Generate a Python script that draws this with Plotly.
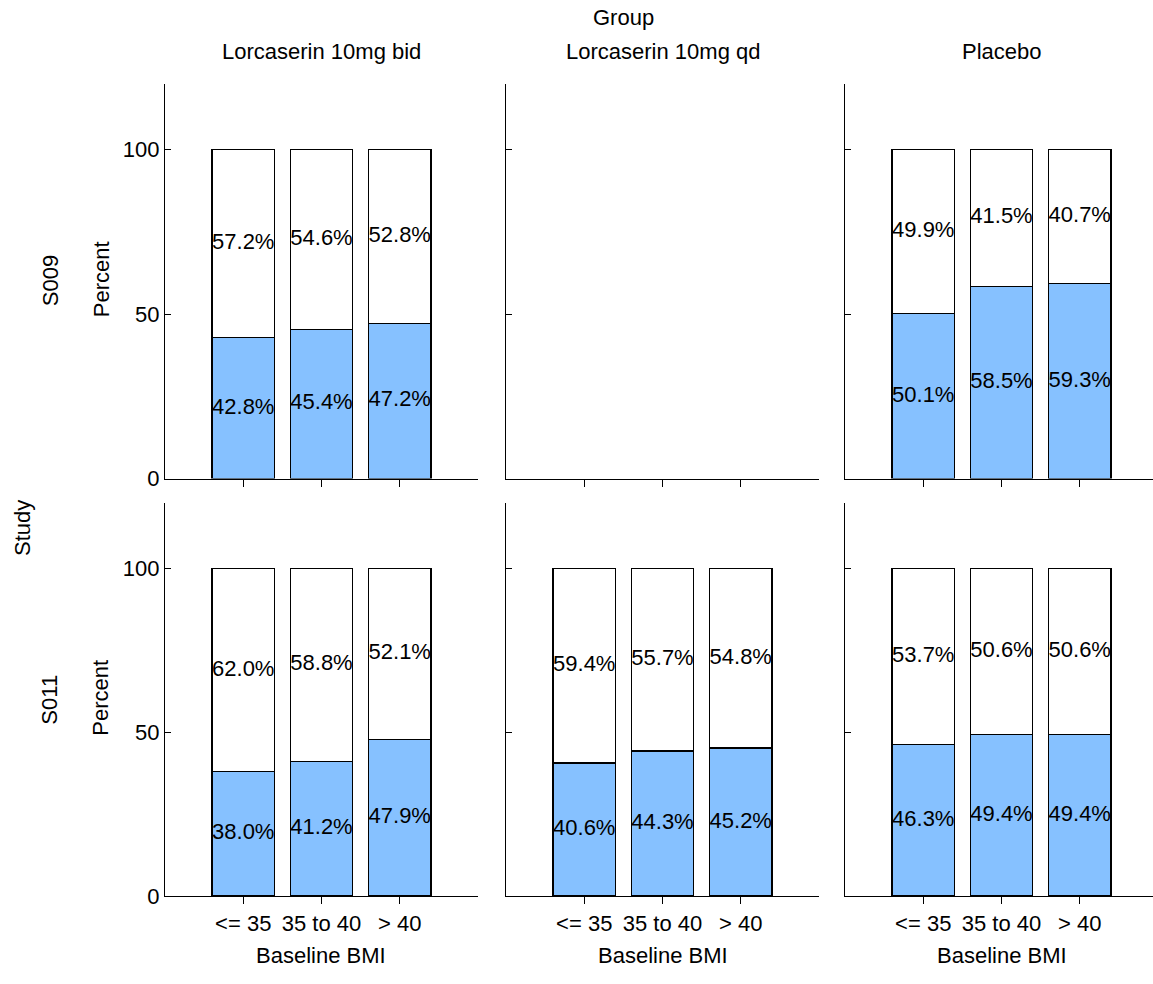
import plotly.graph_objects as go

W, H = 1153, 984

groups = ["Lorcaserin 10mg bid", "Lorcaserin 10mg qd", "Placebo"]
studies = ["S009", "S011"]
categories = ["<= 35", "35 to 40", "> 40"]

# lower (blue) segment percentages; None = no data
s009_bid = [42.8, 45.4, 47.2]
s009_qd = [None, None, None]
s009_pbo = [50.1, 58.5, 59.3]
s011_bid = [38.0, 41.2, 47.9]
s011_qd = [40.6, 44.3, 45.2]
s011_pbo = [46.3, 49.4, 49.4]

data = {
    ("S009", 0): s009_bid, ("S009", 1): s009_qd, ("S009", 2): s009_pbo,
    ("S011", 0): s011_bid, ("S011", 1): s011_qd, ("S011", 2): s011_pbo,
}

BLUE = "#86C1FF"
FONT = "Liberation Sans, Arial, sans-serif"
FS = 22

# panel geometry in window pixels
x_left = [165, 506, 845]
px_per_unit = 78.25
panel_w = [313, 313, W - 845]
row_top = {"S009": (85, 485), "S011": (510, 908)}

fig = go.Figure()

def px2fx(px):
    return px / W

def py2fy(py):
    return 1 - py / H

axis_idx = 0
layout_axes = {}
for r, st in enumerate(studies):
    for c in range(3):
        axis_idx += 1
        xa = "x" if axis_idx == 1 else f"x{axis_idx}"
        ya = "y" if axis_idx == 1 else f"y{axis_idx}"
        vals = data[(st, c)]
        xs = [categories[i] for i in range(3) if vals[i] is not None]
        low = [v for v in vals if v is not None]
        high = [round(100 - v, 1) for v in low]
        if low:
            fig.add_trace(go.Bar(x=xs, y=low, width=0.8, marker=dict(color=BLUE, line=dict(color="black", width=1.3)),
                                 xaxis=xa, yaxis=ya, showlegend=False, hoverinfo="skip"))
            fig.add_trace(go.Bar(x=xs, y=high, width=0.8, marker=dict(color="white", line=dict(color="black", width=1.3)),
                                 xaxis=xa, yaxis=ya, showlegend=False, hoverinfo="skip"))
            fig.add_trace(go.Scatter(x=xs, y=[v / 2 for v in low], mode="text",
                                     text=[f"{v:.1f}%" for v in low],
                                     textfont=dict(family=FONT, size=FS, color="black"),
                                     xaxis=xa, yaxis=ya, showlegend=False, hoverinfo="skip"))
            fig.add_trace(go.Scatter(x=xs, y=[l + h / 2 for l, h in zip(low, high)], mode="text",
                                     text=[f"{v:.1f}%" for v in high],
                                     textfont=dict(family=FONT, size=FS, color="black"),
                                     xaxis=xa, yaxis=ya, showlegend=False, hoverinfo="skip"))
        else:
            fig.add_trace(go.Scatter(x=categories, y=[None, None, None], mode="markers",
                                     xaxis=xa, yaxis=ya, showlegend=False, hoverinfo="skip"))
        top, bot = row_top[st]
        x0 = x_left[c]
        x1 = x0 + panel_w[c]
        xkey = "xaxis" if axis_idx == 1 else f"xaxis{axis_idx}"
        ykey = "yaxis" if axis_idx == 1 else f"yaxis{axis_idx}"
        layout_axes[xkey] = dict(
            domain=[px2fx(x0), min(1.0, px2fx(x1))], anchor=ya,
            type="category", categoryorder="array", categoryarray=categories,
            range=[-1, -1 + panel_w[c] / px_per_unit],
            showline=True, linecolor="black", linewidth=1.3, mirror=False,
            ticks="outside", ticklen=7, tickwidth=1.3, tickcolor="black",
            showticklabels=(st == "S011"), showgrid=False, zeroline=False,
            tickfont=dict(family=FONT, size=FS, color="black"),
        )
        layout_axes[ykey] = dict(
            domain=[py2fy(bot), py2fy(top)], anchor=xa,
            range=[0, 120], tickvals=[0, 50, 100],
            showline=True, linecolor="black", linewidth=1.3,
            ticks="inside", ticklen=6, tickwidth=1.3, tickcolor="black",
            showticklabels=(c == 0), showgrid=False, zeroline=False,
            tickfont=dict(family=FONT, size=FS, color="black"),
        )

annotations = []
def ann(text, x, y, angle=0):
    annotations.append(dict(text=text, x=px2fx(x), y=py2fy(y), xref="paper", yref="paper",
                            showarrow=False, textangle=angle, xanchor="center", yanchor="middle",
                            font=dict(family=FONT, size=FS, color="black")))

ann("Group", 623, 18)
for c, g in enumerate(groups):
    cx = x_left[c] + 2 * px_per_unit
    ann(g, cx, 52)
    ann("Baseline BMI", cx, 968)
for st in studies:
    top, bot = row_top[st]
    ann(st, 50, (top + bot) / 2, -90)
    ann("Percent", 101, (top + bot) / 2 - 2, -90)
ann("Study", 23, 535, -90)

fig.update_layout(
    width=W, height=H, margin=dict(l=0, r=0, t=0, b=0),
    paper_bgcolor="white", plot_bgcolor="white",
    barmode="stack", bargap=0.2,
    annotations=annotations,
    font=dict(family=FONT, size=FS, color="black"),
    **layout_axes,
)

fig.write_html("out.html", config={"displayModeBar": False},
               post_script="document.body.style.margin='0';document.body.style.overflow='hidden';")
